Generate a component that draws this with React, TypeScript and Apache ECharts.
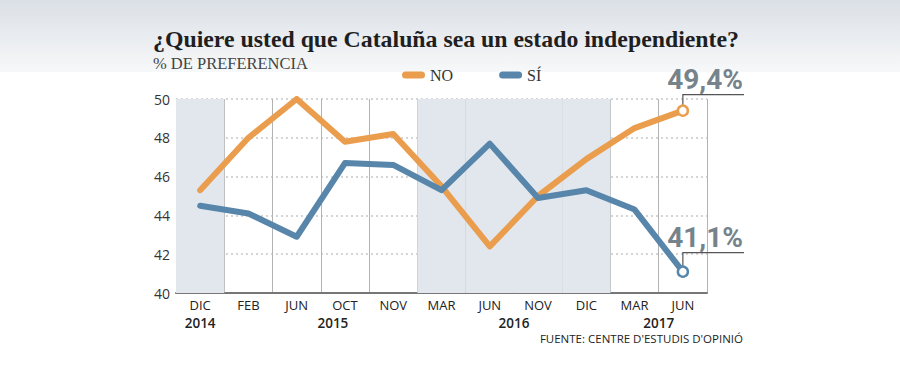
import React, { useEffect, useRef } from "react";
import * as echarts from "echarts";

const categories = ["DIC", "FEB", "JUN", "OCT", "NOV", "MAR", "JUN", "NOV", "DIC", "MAR", "JUN"];
const noValues = [45.3, 48.0, 50.0, 47.8, 48.2, 45.5, 42.4, 45.0, 46.9, 48.5, 49.4];
const siValues = [44.5, 44.1, 42.9, 46.7, 46.6, 45.3, 47.7, 44.9, 45.3, 44.3, 41.1];
const shadedBands = [1, 0, 0, 0, 0, 1, 1, 1, 1, 0, 0];
const years = ["2014", "2015", "2016", "2017"];
const yearPositions = [0, 2.75, 6.5, 9.5];
const yMin = 40;
const yMax = 50;
const yInterval = 2;

const TITLE = "¿Quiere usted que Cataluña sea un estado independiente?";
const SUBTITLE = "% DE PREFERENCIA";
const SOURCE = "FUENTE: CENTRE D'ESTUDIS D'OPINIÓ";

const ORANGE = "#ea9d4d";
const BLUE = "#5886ab";
const SANS = "'Open Sans', 'Noto Sans', sans-serif";
const SERIF = "'Liberation Serif', 'DejaVu Serif', serif";

const fmt = (v: number) => v.toFixed(1).replace(".", ",") + "%";

export default function App() {
  const ref = useRef<HTMLDivElement>(null);
  useEffect(() => {
    document.body.style.margin = "0";
    const chart = echarts.init(ref.current!, null, { renderer: "svg" });
    const last = categories.length - 1;
    const lineData = (vals: number[], color: string) =>
      vals.map((v, i) =>
        i === last
          ? {
              value: v,
              symbol: "circle",
              symbolSize: 10,
              itemStyle: { color: "#fff", borderColor: color, borderWidth: 2.5 },
            }
          : { value: v, symbol: "none" }
      );
    const pill = "path://M3.5,0 H19.5 A3.5,3.5 0 0 1 19.5,7 H3.5 A3.5,3.5 0 0 1 3.5,0 Z";
    const option: any = {
      animation: false,
      backgroundColor: "#ffffff",
      grid: { left: 176, right: 193, top: 99, bottom: 72, containLabel: false },
      legend: {
        left: 397,
        top: 62,
        itemGap: 46,
        itemWidth: 23,
        itemHeight: 7,
        selectedMode: false,
        textStyle: { fontFamily: SERIF, fontSize: 16, color: "#333", padding: [2, 0, 0, 0] },
        data: [
          { name: "NO", icon: pill, itemStyle: { color: ORANGE } },
          { name: "SÍ", icon: pill, itemStyle: { color: BLUE } },
        ],
      },
      xAxis: {
        type: "category",
        data: categories,
        boundaryGap: true,
        axisLine: { show: true, lineStyle: { color: "#777", width: 2 } },
        axisTick: { show: false },
        axisLabel: { fontFamily: SANS, fontSize: 13, color: "#222", margin: 5, lineHeight: 13 },
        splitLine: { show: true, lineStyle: { color: "#b3b3b3", width: 1 } },
      },
      yAxis: {
        type: "value",
        min: yMin,
        max: yMax,
        interval: yInterval,
        axisLine: { show: false },
        axisTick: { show: false },
        axisLabel: { fontFamily: SANS, fontSize: 14, color: "#333", margin: 6 },
        splitLine: { show: true, lineStyle: { color: "#c8c8c8", width: 1.5, type: [2, 3] } },
      },
      series: [
        {
          name: "bands",
          type: "bar",
          data: shadedBands.map((s) => (s ? yMax : "-")),
          barWidth: "100%",
          barCategoryGap: "0%",
          itemStyle: { color: "#e1e7ed" },
          silent: true,
          z: 0,
          legendHoverLink: false,
        },
        {
          name: "NO",
          type: "line",
          data: lineData(noValues, ORANGE),
          lineStyle: { color: ORANGE, width: 6, cap: "round", join: "round" },
          itemStyle: { color: ORANGE },
          showAllSymbol: true,
          z: 3,
        },
        {
          name: "SÍ",
          type: "line",
          data: lineData(siValues, BLUE),
          lineStyle: { color: BLUE, width: 6, cap: "round", join: "round" },
          itemStyle: { color: BLUE },
          showAllSymbol: true,
          z: 4,
        },
      ],
    };
    chart.setOption(option);

    const x0 = chart.convertToPixel({ xAxisIndex: 0 }, 0) as number;
    const x1 = chart.convertToPixel({ xAxisIndex: 0 }, 1) as number;
    const step = x1 - x0;
    const bottomY = chart.convertToPixel({ yAxisIndex: 0 }, yMin) as number;

    const graphics: any[] = [
      {
        type: "rect",
        z: -10,
        silent: true,
        shape: { x: 0, y: 0, width: 900, height: 72 },
        style: {
          fill: new echarts.graphic.LinearGradient(0, 0, 0, 1, [
            { offset: 0, color: "#dbe0e6" },
            { offset: 1, color: "#f7f8f9" },
          ]),
        },
      },
      {
        type: "text",
        left: 153,
        top: 27,
        style: { text: TITLE, font: `bold 23.8px ${SERIF}`, fill: "#1f1f1f" },
      },
      {
        type: "text",
        left: 153,
        top: 55,
        style: { text: SUBTITLE, font: `16.5px ${SERIF}`, fill: "#444" },
      },
      {
        type: "text",
        x: 743,
        y: 338,
        style: {
          text: SOURCE,
          font: `11.5px ${SANS}`,
          fill: "#222",
          textAlign: "right",
          textVerticalAlign: "middle",
          lineHeight: 11,
        },
      },
    ];
    years.forEach((yr, i) => {
      graphics.push({
        type: "text",
        x: x0 + yearPositions[i] * step,
        y: bottomY + 30,
        style: {
          text: yr,
          font: `600 13.5px ${SANS}`,
          fill: "#222",
          textAlign: "center",
          textVerticalAlign: "middle",
          lineHeight: 12,
        },
      });
    });
    const endLabel = (vals: number[], rise: number, textGap: number) => {
      const [cx, cy] = chart.convertToPixel({ gridIndex: 0 }, [last, vals[last]]) as number[];
      const ly = cy - rise;
      graphics.push({
        type: "polyline",
        z: 1,
        shape: { points: [[cx, cy - 5], [cx, ly], [744, ly]] },
        style: { stroke: "#555", lineWidth: 1.2, fill: "none" },
      });
      graphics.push({
        type: "text",
        x: 743,
        y: ly - textGap,
        style: {
          text: fmt(vals[last]),
          font: `bold 28px ${"Roboto, 'Open Sans', sans-serif"}`,
          fill: "#76838b",
          textAlign: "right",
          textVerticalAlign: "bottom",
        },
      });
    };
    endLabel(noValues, 16, 1);
    endLabel(siValues, 19, 1);
    chart.setOption({ graphic: graphics });

    return () => chart.dispose();
  }, []);
  return <div ref={ref} style={{ width: 900, height: 365 }} />;
}
